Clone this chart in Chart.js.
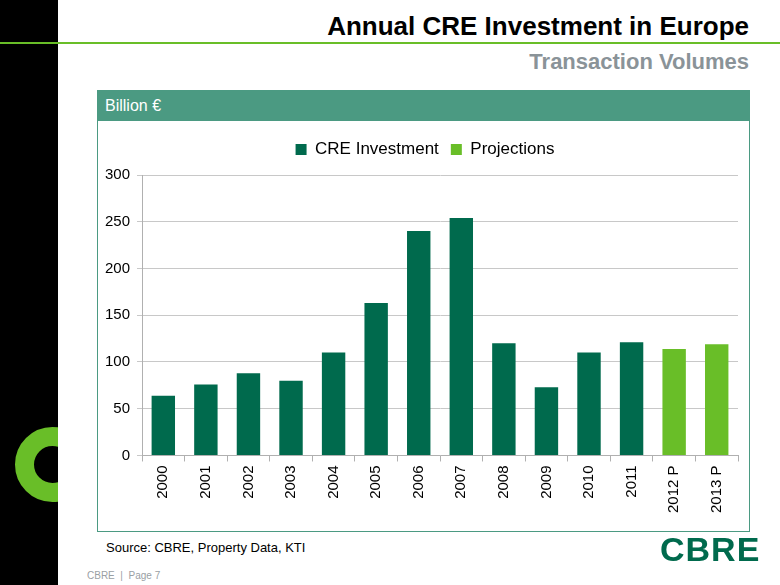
<!DOCTYPE html>
<html><head><meta charset="utf-8">
<script src="https://cdn.jsdelivr.net/npm/chart.js@4"></script>
<style>
html,body{margin:0;padding:0;background:#fff;font-family:"Liberation Sans",Arial,sans-serif;}
#page{position:relative;width:780px;height:585px;overflow:hidden;background:#fff;}
#strip{position:absolute;left:0;top:0;width:58px;height:585px;background:#000;overflow:hidden;}
#ring{position:absolute;left:15px;top:427px;width:37px;height:37px;border:19px solid #69BE28;border-radius:50%;box-sizing:content-box;}
#rule{position:absolute;left:0;top:42px;width:780px;height:2px;background:#69BE28;}
#title{position:absolute;right:31px;top:11px;font-size:26px;font-weight:bold;color:#000;}
#sub{position:absolute;right:31px;top:49px;font-size:22px;font-weight:bold;color:#8A9398;}
#panel{position:absolute;left:97px;top:90px;width:651px;height:440px;border:1px solid #4B9A82;}
#hdr{position:absolute;left:0;top:0;width:651px;height:30px;background:#4B9A82;color:#fff;font-size:16px;line-height:30px;padding-left:7px;box-sizing:border-box;}
#wrap{position:absolute;left:0;top:30px;width:651px;height:410px;}
#src{position:absolute;left:106px;top:540px;font-size:13px;color:#000;}
#foot{position:absolute;left:87px;top:570px;font-size:10px;color:#9aa0a4;}
#logo{position:absolute;left:660px;top:530px;font-size:34px;font-weight:900;color:#006A4D;letter-spacing:1px;}
</style></head><body>
<div id="page">
<div id="strip"><div id="ring"></div></div>
<div id="rule"></div>
<div id="title">Annual CRE Investment in Europe</div>
<div id="sub">Transaction Volumes</div>
<div id="panel"><div id="hdr">Billion €</div><div id="wrap"><canvas id="c" width="651" height="410"></canvas></div></div>
<div id="src">Source: CBRE, Property Data, KTI</div>
<div id="foot">CBRE &nbsp;|&nbsp; Page 7</div>
<div id="logo">CBRE</div>
</div>
<script>
const categories = ["2000","2001","2002","2003","2004","2005","2006","2007","2008","2009","2010","2011","2012 P","2013 P"];
const creInvestment = [64,76,88,80,110,163,240,254,120,73,110,121,null,null];
const projections = [null,null,null,null,null,null,null,null,null,null,null,null,114,119];
const yTicks = [0,50,100,150,200,250,300];

const legendGap = {
  id:'legendGap',
  beforeInit(chart){
    const lg = chart.legend;
    const fit = lg.fit;
    lg.fit = function(){ fit.call(lg); lg.height += 7; };
  },
  beforeDraw(chart){
    const lg = chart.legend;
    if (!lg._shifted){ lg.left += 7; lg.right += 7; lg._shifted = true; lg.adjustHitBoxes && lg.adjustHitBoxes(); }
  }
};

new Chart(document.getElementById('c'), {
  type:'bar',
  data:{labels:categories, datasets:[
    {label:'CRE Investment', data:creInvestment, backgroundColor:'#006A4D', barPercentage:0.55, categoryPercentage:1},
    {label:'Projections', data:projections, backgroundColor:'#69BE28', barPercentage:0.55, categoryPercentage:1}
  ]},
  options:{
    responsive:false, animation:false, devicePixelRatio:1,
    layout:{padding:{left:0,right:11,top:8,bottom:14}},
    plugins:{
      legend:{position:'top', labels:{boxWidth:11, boxHeight:11, padding:12, color:'#000', font:{family:'Liberation Sans', size:17}}},
      tooltip:{enabled:false}
    },
    scales:{
      x:{stacked:true, grid:{drawOnChartArea:false, drawTicks:true, tickLength:6, color:'#b0b0b0', offset:true},
         border:{color:'#b0b0b0'},
         ticks:{maxRotation:90, minRotation:90, color:'#000', padding:4, font:{family:'Liberation Sans', size:15}}},
      y:{stacked:true, min:0, max:300, afterBuildTicks:(s)=>{s.ticks=yTicks.map(v=>({value:v}));},
         grid:{color:'#c8c8c8', tickLength:5}, border:{color:'#b0b0b0'},
         ticks:{color:'#000', padding:7, font:{family:'Liberation Sans', size:15}}}
    }
  },
  plugins:[legendGap]
});
</script>
</body></html>
